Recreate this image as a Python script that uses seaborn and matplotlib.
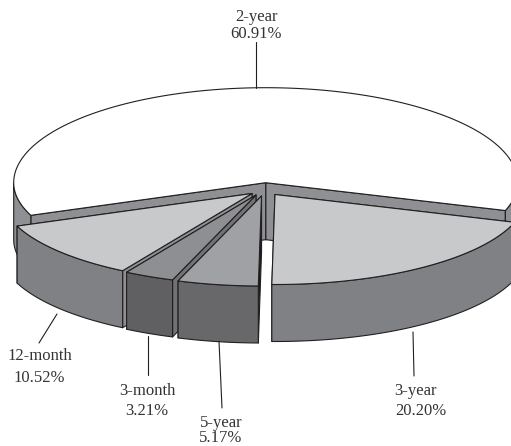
import numpy as np
import matplotlib
matplotlib.use("Agg")
import matplotlib.pyplot as plt
import seaborn as sns

# Maturity shares, clockwise from the lower right of the pie
maturities = ["3-year", "5-year", "3-month", "12-month", "2-year"]
shares = [20.20, 5.17, 3.21, 10.52, 60.91]

# Slice apex on the page, one per maturity
apex_x = [275, 261.5, 256, 252, 265.7]
apex_y = [194.5, 196, 195, 193.5, 182.7]

top_colors = ["#c8c9cb", "#a0a1a4", "#8e8f92", "#c8c9cb", "#ffffff"]
front_colors = ["#808184", "#68686b", "#606063", "#808184", "#8f9093"]
side_colors = ["#808184", "#1c1c1c", "#727275", "#8f9093", "#8f9093"]

# Caption positions: name, value, and leader line ends
name_pos = [(415, 391), (221, 423), (147, 391), (40, 356), (256, 17)]
value_pos = [(421, 411), (221, 438.5), (147, 411), (39, 378), (256, 34)]
leaders = [((413, 332), (414, 376)), ((219, 341), (222, 408)),
           ((148, 336), (148, 375)), ((57, 314), (39, 343)),
           ((256, 42), (256, 88))]

RX, RY_FRONT, RY_BACK = 252, 90, 95
DEPTH = 57
START = -18.0
EDGE = "#231f20"
INK = "#333333"

sns.set_theme(style="white")
plt.rcParams["font.family"] = ["Liberation Serif", "DejaVu Serif"]

fig = plt.figure(figsize=(5.11, 4.46), dpi=100)
ax = fig.add_axes([0, 0, 1, 1])
ax.set_xlim(0, 511)
ax.set_ylim(446, 0)
ax.axis("off")


def rim(cx, cy, angles):
    t = np.radians(angles)
    ry = np.where(np.sin(t) > 0, RY_BACK, RY_FRONT)
    return cx + RX * np.cos(t), cy - ry * np.sin(t)


def patch(xs, ys, color, z):
    ax.fill(xs, ys, facecolor=color, edgecolor=EDGE, linewidth=0.8,
            joinstyle="round", zorder=z)


# Running total of the shares gives each slice its angular span
bounds = START - 3.6 * np.concatenate([[0], np.cumsum(shares)])
bounds[-1] = START - 360

# Slices are painted back to front so nearer ones hide the walls behind them
paint_order = [4, 3, 2, 1, 0]
for layer, i in enumerate(paint_order):
    z = 2 + layer
    a0, a1 = bounds[i], bounds[i + 1]
    cx, cy = apex_x[i], apex_y[i]

    # Radial walls
    for a in (a1, a0):
        ex, ey = rim(cx, cy, np.array([a]))
        patch([cx, ex[0], ex[0], cx], [cy, ey[0], ey[0] + DEPTH, cy + DEPTH],
              side_colors[i], z)

    # Outer wall, only where the rim faces the viewer
    ang = np.linspace(a0, a1, 240)
    for lo, hi in ((-180, 0), (-540, -360)):
        seg = ang[(ang >= lo) & (ang <= hi)]
        if seg.size > 1:
            ex, ey = rim(cx, cy, seg)
            patch(np.r_[ex, ex[::-1]], np.r_[ey, ey[::-1] + DEPTH],
                  front_colors[i], z)

    # Top face
    ex, ey = rim(cx, cy, ang)
    patch(np.r_[cx, ex], np.r_[cy, ey], top_colors[i], z)

# Captions and leader lines
for name, share, np_, vp, (p0, p1) in zip(maturities, shares, name_pos,
                                          value_pos, leaders):
    ax.plot([p0[0], p1[0]], [p0[1], p1[1]], color=EDGE, lw=0.8, zorder=10)
    ax.text(*np_, name, ha="center", va="center", fontsize=12, color=INK, zorder=11)
    ax.text(*vp, f"{share:.2f}%", ha="center", va="center", fontsize=12,
            color=INK, zorder=11)

fig.savefig("out.png", dpi=100, facecolor="white")
